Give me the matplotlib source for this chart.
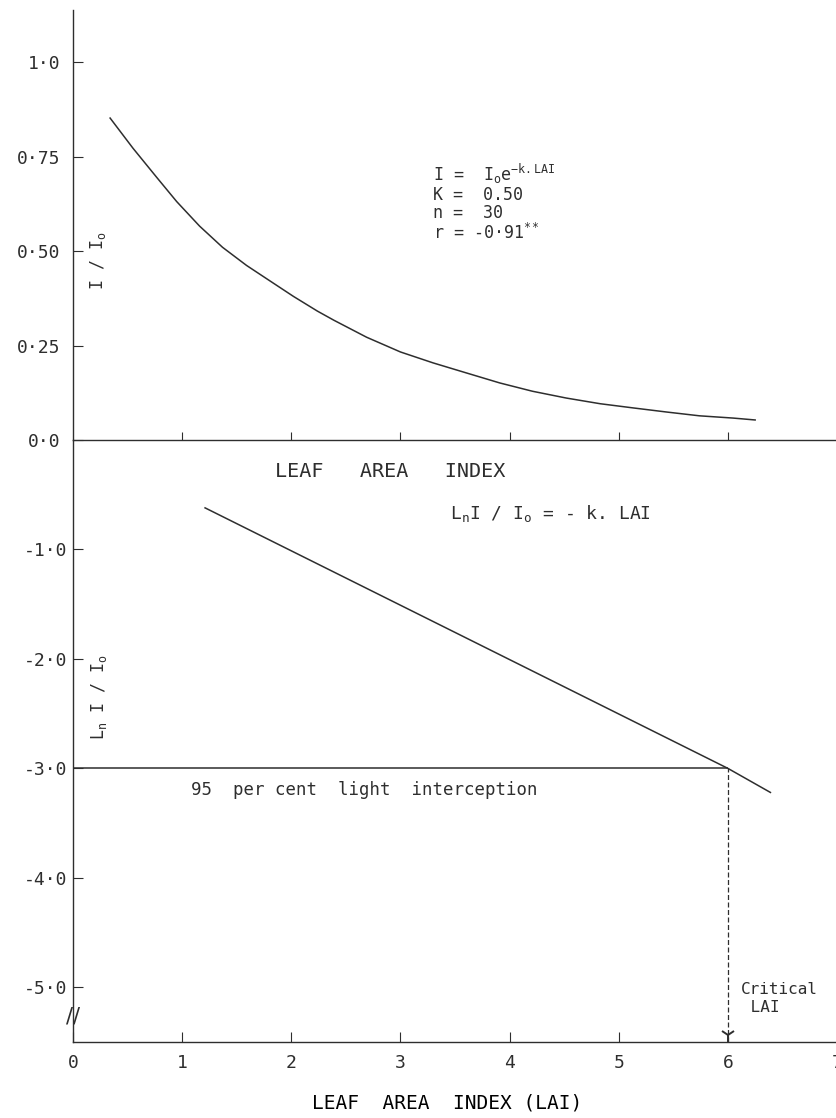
import matplotlib
matplotlib.use('Agg')
import matplotlib.pyplot as plt

# 読み取った値 (上段: I/Io 曲線, 下段: Ln I/Io 直線)
lai_curve = [0.34, 0.55, 0.77, 0.95, 1.16, 1.37, 1.59, 1.81, 2.02, 2.24, 2.39,
             2.69, 3.00, 3.30, 3.61, 3.91, 4.21, 4.52, 4.83, 5.13, 5.44, 5.74,
             6.05, 6.25]
i_ratio = [0.852, 0.772, 0.694, 0.631, 0.566, 0.510, 0.462, 0.420, 0.380, 0.341,
           0.317, 0.272, 0.233, 0.204, 0.177, 0.151, 0.129, 0.111, 0.096, 0.085,
           0.074, 0.064, 0.058, 0.053]

lai_line = [1.21, 6.0, 6.39]
ln_ratio = [-0.62, -3.0, -3.22]

critical_lai = 6.0
ln_95 = -3.0

top_ticks = [0.0, 0.25, 0.50, 0.75, 1.0]
top_ticklabels = ['0·0', '0·25', '0·50', '0·75', '1·0']
bot_ticks = [-5.0, -4.0, -3.0, -2.0, -1.0]
bot_ticklabels = ['-5·0', '-4·0', '-3·0', '-2·0', '-1·0']
x_ticks = [0, 1, 2, 3, 4, 5, 6, 7]
x_ticklabels = ['0', '1', '2', '3', '4', '5', '6', '7']

ink = '#2e2e2e'
plt.rcParams['font.family'] = ['DejaVu Sans Mono']
plt.rcParams['mathtext.fontset'] = 'custom'
plt.rcParams['mathtext.rm'] = 'DejaVu Sans Mono'
plt.rcParams['mathtext.it'] = 'DejaVu Sans Mono'
plt.rcParams['text.color'] = ink

fig = plt.figure(figsize=(8.37, 11.18), dpi=100)
left = 73 / 837
ax1 = fig.add_axes([left, 1 - 440 / 1118, 1 - left, 430 / 1118])
ax2 = fig.add_axes([left, 1 - 1042 / 1118, 1 - left, 602 / 1118])

for ax in (ax1, ax2):
    ax.set_facecolor('none')
    for s in ('top', 'right'):
        ax.spines[s].set_visible(False)
    for s in ('left', 'bottom'):
        ax.spines[s].set_color(ink)
        ax.spines[s].set_linewidth(1.0)
    ax.set_xlim(0, 7)
    ax.tick_params(colors=ink, labelcolor=ink, direction='in', length=7, width=0.8)

# 上段
ax1.plot(lai_curve, i_ratio, color=ink, lw=1.1)
ax1.set_ylim(0, 1.138)
ax1.set_yticks(top_ticks)
ax1.set_yticklabels(top_ticklabels, fontsize=13)
ax1.tick_params(axis='y', pad=9)
ax1.set_xticks(x_ticks[1:7])
ax1.tick_params(axis='x', labelbottom=False, length=6)
ax1.text(0.23, 0.475, r'I / I$_\mathrm{o}$', rotation=90, fontsize=12,
         ha='center', va='center')
stats = '\n'.join([r'I =  I$_\mathrm{o}$e$^{\mathrm{-k.LAI}}$',
                   'K =  0.50',
                   'n =  30',
                   r'r = -0·91$^{**}$'])
ax1.text(3.3, 0.735, stats, fontsize=12, va='top', linespacing=1.0)

# 下段
ax2.plot(lai_line, ln_ratio, color=ink, lw=1.1)
ax2.hlines(ln_95, 0, critical_lai, color=ink, lw=1.1)
ax2.vlines(critical_lai, -5.5, ln_95, color=ink, lw=0.9, linestyles=(0, (4, 2)))
ax2.plot([critical_lai], [-5.44], marker='1', markersize=11, color=ink, mew=1.4)
ax2.set_ylim(-5.5, 0)
ax2.set_yticks(bot_ticks)
ax2.set_yticklabels(bot_ticklabels, fontsize=13)
ax2.tick_params(axis='y', pad=4)
ax2.set_xticks(x_ticks)
ax2.set_xticklabels(x_ticklabels, fontsize=13)
ax2.tick_params(axis='x', pad=9)
ax2.set_xlabel('LEAF  AREA  INDEX (LAI)', fontsize=14, labelpad=15, x=0.49)
ax2.text(1.85, -0.29, 'LEAF   AREA   INDEX', fontsize=14.5, va='center')
ax2.text(3.45, -0.67, r'L$_\mathrm{n}$I / I$_\mathrm{o}$ = - k. LAI', fontsize=13, va='center')
ax2.text(0.24, -2.35, r'L$_\mathrm{n}$ I / I$_\mathrm{o}$', rotation=90, fontsize=12,
         ha='center', va='center')
ax2.text(1.08, -3.2, '95  per cent  light  interception', fontsize=12.5, va='center')
ax2.text(6.12, -5.1, 'Critical\n LAI', fontsize=11.5, va='center', linespacing=1.25)
ax2.text(0.0, -5.27, '//', fontsize=15, ha='center', va='center', family='DejaVu Sans')

fig.savefig('out.png', dpi=100)
